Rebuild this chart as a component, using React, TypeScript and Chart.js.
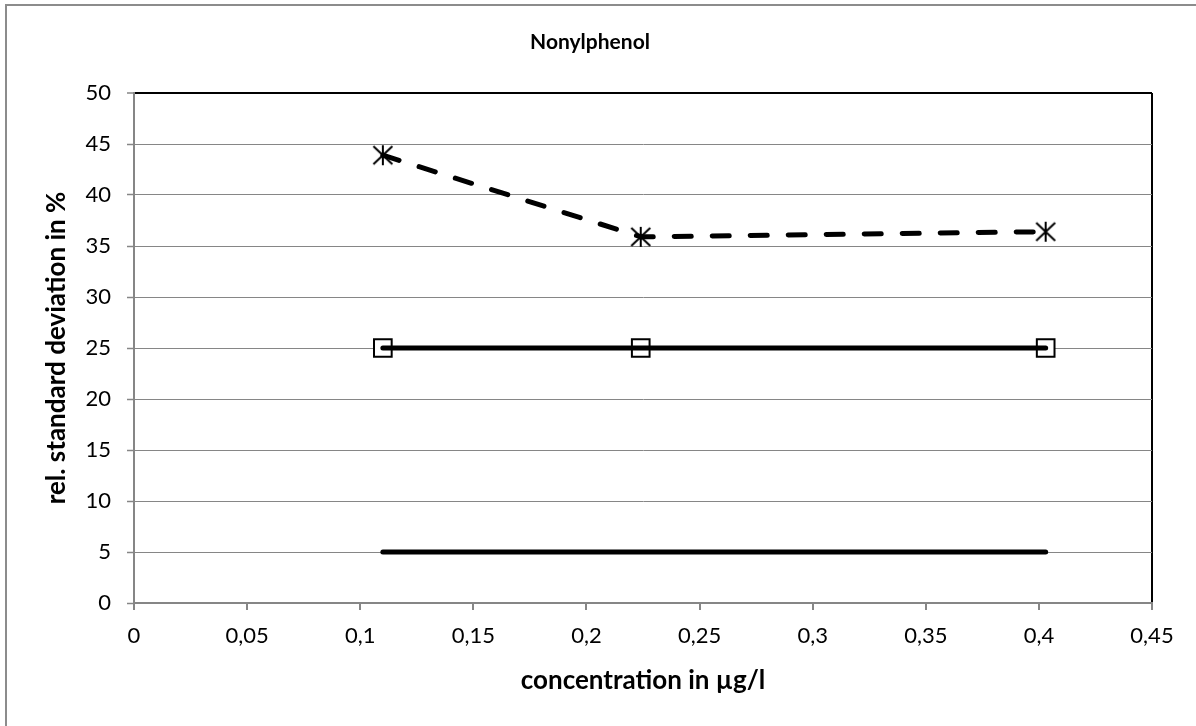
import React, { useEffect, useRef } from "react";
import { Chart, registerables } from "chart.js";

Chart.register(...registerables);

const chartTitle = "Nonylphenol";
const xAxisTitle = "concentration in µg/l";
const yAxisTitle = "rel. standard deviation in %";

const concentrations = [0.11, 0.224, 0.403];
const rsdMeasured = [43.9, 35.9, 36.4];
const rsdUpper = [25, 25, 25];
const rsdLower = [5, 5, 5];

const xMin = 0;
const xMax = 0.45;
const xStep = 0.05;
const yMin = 0;
const yMax = 50;
const yStep = 5;

const GRID = "#868686";
const FONT = "Lato, 'Open Sans', sans-serif";

function makeAsterisk(): HTMLCanvasElement {
  const c = document.createElement("canvas");
  c.width = 22;
  c.height = 22;
  const g = c.getContext("2d")!;
  g.strokeStyle = "#000";
  g.lineWidth = 2;
  g.beginPath();
  g.moveTo(11, 1);
  g.lineTo(11, 21);
  g.moveTo(1.5, 2);
  g.lineTo(20.5, 20);
  g.moveTo(20.5, 2);
  g.lineTo(1.5, 20);
  g.stroke();
  return c;
}

const pts = (ys: number[]) => concentrations.map((x, i) => ({ x, y: ys[i] }));

const fmt = (v: number) => String(Math.round(v * 1000) / 1000).replace(".", ",");

export default function App() {
  const ref = useRef<HTMLCanvasElement | null>(null);

  useEffect(() => {
    if (!ref.current) return;
    const asterisk = makeAsterisk();

    const titlePlugin = {
      id: "customTitle",
      afterDraw(chart: any) {
        const ctx = chart.ctx;
        ctx.save();
        ctx.font = `bold 21px ${FONT}`;
        ctx.fillStyle = "#000";
        ctx.textAlign = "center";
        ctx.textBaseline = "middle";
        ctx.fillText(chartTitle, 590, 42);
        ctx.restore();
      },
    };

    const chart = new Chart(ref.current, {
      type: "line",
      data: {
        datasets: [
          {
            label: "measured",
            data: pts(rsdMeasured),
            borderColor: "#000",
            borderWidth: 5,
            borderDash: [17, 21],
            borderCapStyle: "round",
            pointRadius: 0,
            tension: 0,
            order: 0,
          },
          {
            label: "upper",
            data: pts(rsdUpper),
            borderColor: "#000",
            borderWidth: 5,
            borderCapStyle: "round",
            pointRadius: 0,
            order: 0,
          },
          {
            label: "lower",
            data: pts(rsdLower),
            borderColor: "#000",
            borderWidth: 5,
            borderCapStyle: "round",
            pointRadius: 0,
            order: 0,
          },
          {
            label: "measured markers",
            data: pts(rsdMeasured),
            showLine: false,
            pointStyle: asterisk as any,
            pointRadius: 11,
            order: 1,
          },
          {
            label: "upper markers",
            data: pts(rsdUpper),
            showLine: false,
            pointStyle: "rect",
            pointRadius: 12.5,
            pointBackgroundColor: "#fff",
            pointBorderColor: "#000",
            pointBorderWidth: 2,
            order: 1,
          },
        ],
      },
      options: {
        responsive: false,
        animation: false,
        devicePixelRatio: 1,
        clip: false as any,
        layout: { padding: { top: 93, right: 44, left: 0, bottom: 0 } },
        plugins: {
          legend: { display: false },
          tooltip: { enabled: false },
          title: { display: false },
        },
        scales: {
          x: {
            type: "linear",
            min: xMin,
            max: xMax,
            afterFit: (s: any) => {
              s.height = 123;
            },
            ticks: {
              stepSize: xStep,
              color: "#000",
              font: { family: FONT, size: 22 },
              padding: 13,
              maxRotation: 0,
              autoSkip: false,
              callback: (v: any) => fmt(Number(v)),
            },
            grid: {
              color: (c: any) =>
                c.tick && Math.abs(c.tick.value - xMax) < 1e-9 ? "#000" : "rgba(0,0,0,0)",
              lineWidth: 2,
              tickColor: GRID,
              tickLength: 7,
              tickWidth: 2,
              drawOnChartArea: true,
            },
            border: { color: GRID, width: 2 },
            title: {
              display: true,
              text: xAxisTitle,
              color: "#000",
              font: { family: FONT, size: 26, weight: "bold" },
              padding: { top: 0, bottom: 30 },
            },
          },
          y: {
            type: "linear",
            min: yMin,
            max: yMax,
            afterFit: (s: any) => {
              s.width = 134;
            },
            ticks: {
              stepSize: yStep,
              color: "#000",
              font: { family: FONT, size: 22 },
              padding: 16,
            },
            grid: {
              color: (c: any) => (c.tick && c.tick.value === yMax ? "#000" : GRID),
              lineWidth: (c: any) => (c.tick && c.tick.value === yMax ? 2 : 1),
              tickColor: GRID,
              tickLength: 7,
              tickWidth: 1.5,
            },
            border: { color: GRID, width: 2 },
            title: {
              display: true,
              text: yAxisTitle,
              color: "#000",
              font: { family: FONT, size: 26, weight: "bold" },
              padding: { top: 41, bottom: 0 },
            },
          },
        },
      },
      plugins: [titlePlugin],
    });

    return () => chart.destroy();
  }, []);

  return (
    <div
      style={{
        position: "absolute",
        left: 0,
        top: 0,
        width: 1196,
        height: 726,
        overflow: "hidden",
        background: "#fff",
      }}
    >
      <div
        style={{
          position: "absolute",
          left: 5,
          top: 4,
          width: 1220,
          height: 750,
          border: "2px solid #8c8c8c",
          boxSizing: "border-box",
        }}
      />
      <canvas
        ref={ref}
        width={1196}
        height={726}
        style={{ position: "absolute", left: 0, top: 0, width: 1196, height: 726 }}
      />
    </div>
  );
}
